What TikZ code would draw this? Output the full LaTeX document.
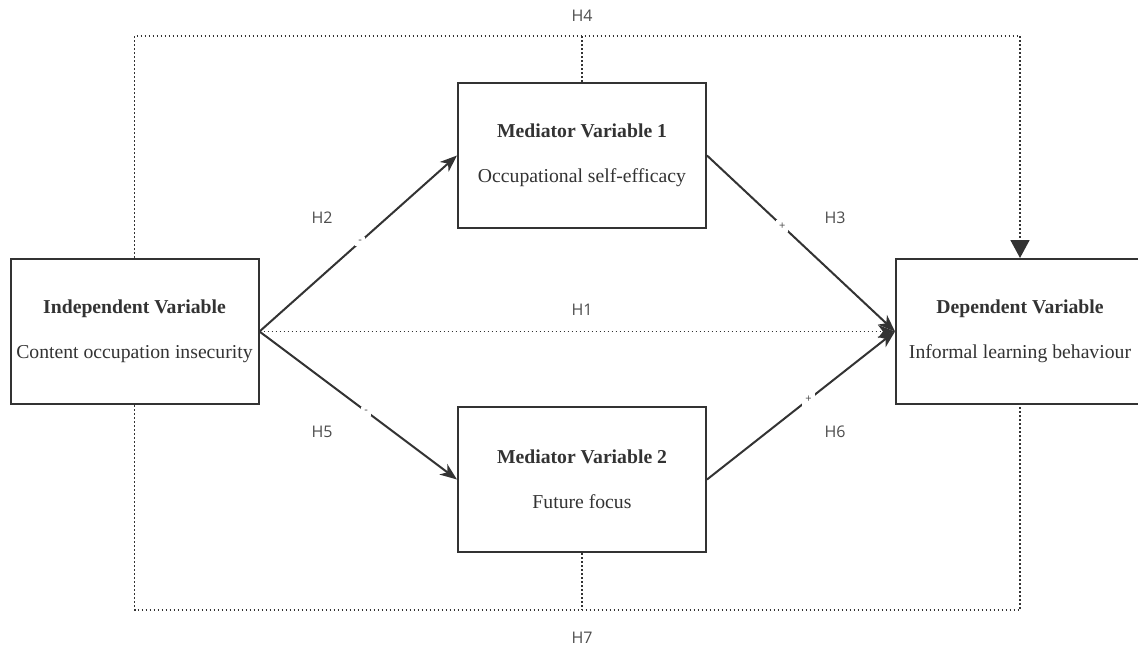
\documentclass[tikz,border=0pt]{standalone}
\usepackage{fontspec}
\setmainfont{Liberation Serif}
\newfontfamily\labfont{Open Sans}
\usetikzlibrary{arrows.meta}
\definecolor{ink}{HTML}{333333}
\definecolor{labc}{HTML}{4D4D4D}
\tikzset{
  varbox/.style={draw=ink, line width=2pt, fill=white, minimum width=248pt, minimum height=145pt,
    align=center, text=ink, font=\fontsize{19.7}{23}\selectfont, inner sep=0pt},
  solidarrow/.style={draw=ink, line width=2pt, -{Stealth[length=17pt,width=13pt,inset=5pt]}},
  dotline/.style={draw=ink, line width=1.6pt, dash pattern=on 1.6pt off 2.4pt},
  hlab/.style={text=labc, font=\labfont\fontsize{16}{18}\selectfont, inner sep=0pt},
  signlab/.style={fill=white, text=labc, font=\labfont\fontsize{11}{12}\selectfont, inner sep=3pt}
}
\begin{document}
\begin{tikzpicture}[x=1pt,y=-1pt]
\useasboundingbox (0,0) rectangle (1138,651);
\clip (0,0) rectangle (1138,651);
\fill[white] (0,0) rectangle (1138,651);

% coordinates of the dotted frame
\coordinate (tl) at (134.5,36);
\coordinate (tm) at (582,36);
\coordinate (tr) at (1020,36);
\coordinate (bl) at (134.5,610);
\coordinate (bm) at (582,610);
\coordinate (br) at (1020,610);

% boxes
\node[varbox] (IV) at (134.5,331.5) {\textbf{Independent Variable}\\[22pt]Content occupation insecurity};
\node[varbox] (M1) at (582,155.5) {\textbf{Mediator Variable 1}\\[22pt]Occupational self-efficacy};
\node[varbox] (M2) at (582,479.5) {\textbf{Mediator Variable 2}\\[22pt]Future focus};
\node[varbox] (DV) at (1020,331.5) {\textbf{Dependent Variable}\\[22pt]Informal learning behaviour};

% dotted connections
\draw[dotline] (IV.north) -- (tl) -- (tr);
\draw[dotline] (M1.north) -- (tm);
\draw[dotline] (IV.south) -- (bl) -- (br) -- (DV.south);
\draw[dotline] (M2.south) -- (bm);

% arrow into DV top (H4)
\draw[dotline, -{Triangle[length=18pt,width=19pt]}] (tr) -- (DV.north);

% H1 dotted arrow
\draw[dotline, -{Stealth[length=17pt,width=13pt,inset=5pt]}] (IV.east) -- (DV.west);

% solid arrows
\draw[solidarrow] (IV.east) -- node[signlab, pos=0.51] {-} (M1.west);
\draw[solidarrow] (IV.east) -- node[signlab, pos=0.54] {-} (M2.west);
\draw[solidarrow] (M1.east) -- node[signlab, pos=0.40] {+} (DV.west);
\draw[solidarrow] (M2.east) -- node[signlab, pos=0.54] {+} (DV.west);

% hypothesis labels
\node[hlab] (h4) at (582,16) {H4};
\node[hlab] (h1) at (582,310) {H1};
\node[hlab] (h2) at (322,218) {H2};
\node[hlab] (h3) at (835,218) {H3};
\node[hlab] (h5) at (322,432) {H5};
\node[hlab] (h6) at (835,432) {H6};
\node[hlab] (h7) at (582,638) {H7};
\end{tikzpicture}
\end{document}
